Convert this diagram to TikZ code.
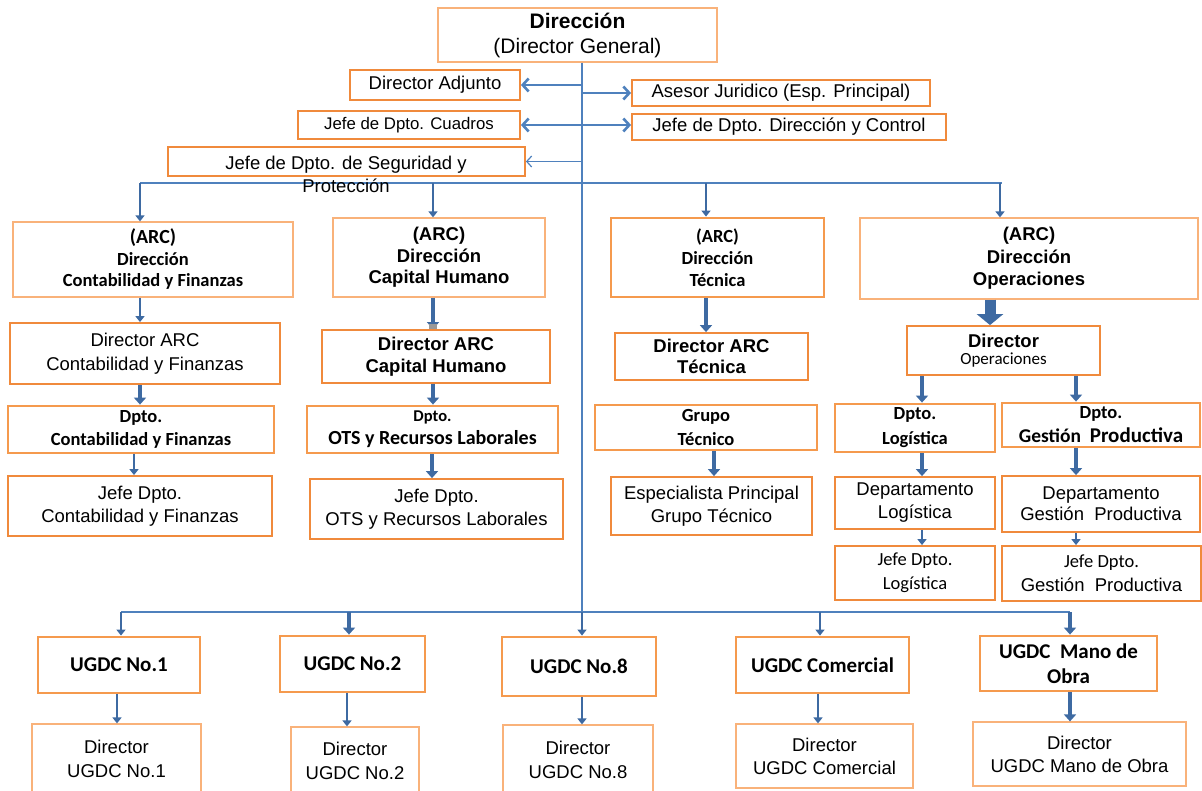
\documentclass[tikz,border=0pt]{standalone}
\usepackage{fontspec}
\setmainfont{Liberation Sans}
\newfontfamily\calib{Carlito}
\usetikzlibrary{arrows.meta,calc}
\definecolor{busb}{HTML}{4F81BD}
\definecolor{arrb}{HTML}{3E6AA2}
\definecolor{orL}{HTML}{F9B27A}
\definecolor{orM}{HTML}{F08A3C}
\definecolor{orT}{HTML}{F59A4E}
\newcommand\fA{\fontsize{18.5}{22}\selectfont\mdseries}
\newcommand\fAb{\fontsize{18.5}{22}\selectfont\bfseries}
\newcommand\fCb{\calib\fontsize{18.5}{22}\selectfont\bfseries}
\newcommand\fC{\calib\fontsize{18.5}{22}\selectfont\mdseries}
\newcommand\bx[7]{\node[#6, minimum width={(#4-#2)*1pt}, minimum height={(#5-#3)*1pt}] (#1) at ({(#2+#4)/2},{(#3+#5)/2}) {#7};}
\tikzset{
  bxbase/.style={rectangle, inner sep=0pt, align=center, fill=white, font=\fontsize{18.5}{23}\selectfont},
  bxthin/.style={bxbase, draw=orL, line width=1.2pt},
  bxmid/.style={bxbase, draw=orM, line width=1.8pt},
  bxthick/.style={bxbase, draw=orT, line width=2.8pt},
  bus/.style={draw=busb, line width=2.6pt},
  drop/.style={draw=arrb, line width=2.8pt, -{Triangle[length=6pt,width=9pt]}},
  dropT/.style={draw=arrb, line width=4.5pt, -{Triangle[length=7pt,width=12pt]}},
  block/.style={draw=arrb, line width=11pt, -{Triangle[length=11pt,width=26pt]}},
  side/.style={draw=busb, line width=2.6pt, -{Straight Barb[length=6pt,width=13pt]}},
  sidethin/.style={draw=busb, line width=1.2pt, -{Straight Barb[length=5pt,width=11pt]}},
}
\begin{document}
\begin{tikzpicture}[x=1pt,y=-1pt]
\useasboundingbox (0,0) rectangle (1202,791);
% top level
\bx{top}{438}{8}{717}{62}{bxthin, font=\fontsize{21}{25}\selectfont}{{\fontsize{21}{25}\selectfont\bfseries Dirección}\\{\fontsize{21}{25}\selectfont\mdseries(Director General)}}
\bx{adj}{350}{70}{520}{100}{bxmid}{\fA Director Adjunto}
\bx{ase}{632}{80}{930}{106}{bxmid}{\fA Asesor Juridico (Esp. Principal)}
\bx{cua}{298}{111}{520}{139}{bxmid}{\fontsize{16.8}{20}\selectfont Jefe de Dpto. Cuadros}
\bx{ctl}{632}{114}{946}{140}{bxmid}{\fA Jefe de Dpto. Dirección y Control}
\bx{seg}{168}{147}{525}{176}{bxmid}{}
% ARC level
\bx{A1}{13}{222}{293}{297}{bxthin, font=\fontsize{18.5}{21.5}\selectfont}{{\calib\bfseries\fontsize{20}{21}\selectfont (ARC)}\\{\fCb Dirección}\\{\fCb Contabilidad y Finanzas}}
\bx{A2}{333}{218}{545}{297}{bxthin, font=\fontsize{18.5}{21.5}\selectfont}{{\fAb (ARC)}\\{\fAb Dirección}\\{\fAb Capital Humano}}
\bx{A3}{611}{218}{824}{297}{bxthick, font=\fontsize{18.5}{22}\selectfont}{{\fCb (ARC)}\\{\fCb Dirección}\\{\fCb Técnica}}
\bx{A4}{860}{218}{1198}{299}{bxthin, font=\fontsize{18.5}{22.5}\selectfont}{{\fAb (ARC)}\\{\fAb Dirección}\\{\fAb Operaciones}}
% Director level
\bx{B1}{10}{323}{280}{384}{bxmid, font=\fontsize{18.5}{24}\selectfont}{{\fA Director ARC}\\{\fA Contabilidad y Finanzas}}
\bx{B2}{322}{330}{550}{383}{bxmid, font=\fontsize{18.5}{22}\selectfont}{{\fAb Director ARC}\\{\fAb Capital Humano}}
\bx{B3}{615}{333}{808}{380}{bxmid, font=\fontsize{18.5}{21}\selectfont}{{\fAb Director ARC}\\{\fAb Técnica}}
\bx{B4}{907}{326}{1100}{375}{bxmid, font=\fontsize{18.5}{17}\selectfont}{{\fAb Director}\\{\calib\fontsize{17}{19}\selectfont\mdseries Operaciones}}
% Dpto level
\bx{C1}{8}{406}{274}{453}{bxthick}{{\fCb Dpto.}\\{\fCb Contabilidad y Finanzas}}
\bx{C2}{307}{406}{558}{453}{bxthick}{{\calib\bfseries\fontsize{16.5}{20}\selectfont Dpto.}\\{\calib\bfseries\fontsize{20}{22}\selectfont OTS y Recursos Laborales}}
\bx{C3}{595}{405}{817}{450}{bxthick, font=\fontsize{18.5}{24}\selectfont}{{\fCb Grupo}\\{\fCb Técnico}}
\bx{C4}{835}{404}{995}{452}{bxthick, font=\fontsize{18.5}{25}\selectfont}{{\fCb Dpto.}\\{\fCb Logística}}
\bx{C5}{1002}{403}{1200}{447}{bxthick, font=\fontsize{18.5}{24}\selectfont}{{\fCb Dpto.}\\{\calib\bfseries\fontsize{19.5}{22}\selectfont Gestión\ \ }{\calib\bfseries\fontsize{21}{22}\selectfont Productiva}}
% Jefe level
\bx{D1}{8}{476}{272}{536}{bxmid}{{\fA Jefe Dpto.}\\{\fA Contabilidad y Finanzas}}
\bx{D2}{310}{479}{563}{539}{bxmid}{{\fA Jefe Dpto.}\\{\fA OTS y Recursos Laborales}}
\bx{D3}{611}{477}{812}{535}{bxmid}{{\fA Especialista Principal}\\{\fA Grupo Técnico}}
\bx{D4}{835}{477}{995}{529}{bxmid}{{\fA Departamento}\\{\fA Logística}}
\bx{D5}{1002}{476}{1200}{532}{bxmid, font=\fontsize{18.5}{21}\selectfont}{{\fA Departamento}\\{\fA Gestión\ \ Productiva}}
\bx{E4}{835}{546}{995}{600}{bxmid, font=\fontsize{18.5}{24}\selectfont}{{\fC Jefe Dpto.}\\{\fC Logística}}
\bx{E5}{1002}{546}{1201}{601}{bxmid, font=\fontsize{18.5}{24}\selectfont}{{\fC Jefe Dpto.}\\{\fA Gestión\ \ Productiva}}
% UGDC level
\bx{U1}{38}{637}{200}{693}{bxthick}{{\calib\bfseries\fontsize{21}{24}\selectfont UGDC No.1}}
\bx{U2}{280}{636}{425}{692}{bxthick}{{\calib\bfseries\fontsize{21}{24}\selectfont UGDC No.2}}
\bx{U8}{502}{637}{656}{696}{bxthick}{{\calib\bfseries\fontsize{21}{24}\selectfont UGDC No.8}}
\bx{UC}{736}{637}{909}{693}{bxthick}{{\calib\bfseries\fontsize{21}{24}\selectfont UGDC Comercial}}
\bx{UM}{980}{636}{1157}{691}{bxthick, font=\fontsize{21}{25}\selectfont}{{\calib\bfseries\fontsize{21}{25}\selectfont UGDC\ \ Mano de}\\{\calib\bfseries\fontsize{21}{25}\selectfont Obra}}
\bx{V1}{32}{724}{201}{794}{bxthin, font=\fontsize{18.5}{24}\selectfont}{{\fA Director}\\{\fA UGDC No.1}}
\bx{V2}{291}{727}{419}{794}{bxthin, font=\fontsize{18.5}{24}\selectfont}{{\fA Director}\\{\fA UGDC No.2}}
\bx{V8}{503}{725}{653}{794}{bxthin, font=\fontsize{18.5}{24}\selectfont}{{\fA Director}\\{\fA UGDC No.8}}
\bx{VC}{736}{724}{913}{788}{bxthin}{{\fA Director}\\{\fA UGDC Comercial}}
\bx{VM}{973}{722}{1186}{786}{bxthin}{{\fA Director}\\{\fA UGDC Mano de Obra}}
% coordinates
\coordinate (tx) at (582,0);
\coordinate (busT) at (0,183);
\coordinate (busB) at (0,612);
% trunk and buses
\draw[bus] (tx |- top.south) -- (tx |- busB);
\draw[bus] (140,0 |- busT) -- (1002,0 |- busT);
\draw[bus] (121,0 |- busB) -- (1070,0 |- busB);
% side arrows
\draw[side] (tx |- adj.east) -- (adj.east);
\draw[side] (tx |- ase.west) -- (ase.west);
\draw[side, {Straight Barb[length=6pt,width=13pt]}-{Straight Barb[length=6pt,width=13pt]}] (cua.east) -- (cua.east -| ctl.west);
\draw[sidethin] (tx |- seg.east) -- (seg.east);
% drops to ARC
\draw[drop] (140,0 |- busT) -- (140,0 |- A1.north);
\draw[drop] (433,0 |- busT) -- (433,0 |- A2.north);
\draw[drop] (706,0 |- busT) -- (706,0 |- A3.north);
\draw[drop] (1000,0 |- busT) -- (1000,0 |- A4.north);
% ARC to Director
\draw[drop] (140,0 |- A1.south) -- (140,0 |- B1.north);
\draw[dropT] (433,0 |- A2.south) -- (433,0 |- B2.north);
\fill[gray!80] (429,324) rectangle (437,329.5);
\draw[dropT] (706,0 |- A3.south) -- (706,0 |- B3.north);
\draw[block] (990,0 |- A4.south) -- (990,0 |- B4.north);
% Director to Dpto
\draw[dropT] (140,0 |- B1.south) -- (140,0 |- C1.north);
\draw[dropT] (433,0 |- B2.south) -- (433,0 |- C2.north);
\draw[dropT] (922,0 |- B4.south) -- (922,0 |- C4.north);
\draw[dropT] (1076,0 |- B4.south) -- (1076,0 |- C5.north);
% Dpto to Jefe
\draw[drop] (134,0 |- C1.south) -- (134,0 |- D1.north);
\draw[dropT] (432,0 |- C2.south) -- (432,0 |- D2.north);
\draw[dropT] (714,0 |- C3.south) -- (714,0 |- D3.north);
\draw[dropT] (922,0 |- C4.south) -- (922,0 |- D4.north);
\draw[dropT] (1076,0 |- C5.south) -- (1076,0 |- D5.north);
\draw[drop] (922,0 |- D4.south) -- (922,0 |- E4.north);
\draw[drop] (1076,0 |- D5.south) -- (1076,0 |- E5.north);
% bottom drops
\draw[drop] (121,0 |- busB) -- (121,0 |- U1.north);
\draw[dropT] (349,0 |- busB) -- (349,0 |- U2.north);
\draw[drop] (tx |- busB) -- (tx |- U8.north);
\draw[drop] (820,0 |- busB) -- (820,0 |- UC.north);
\draw[dropT] (1070,0 |- busB) -- (1070,0 |- UM.north);
\draw[drop] (117,0 |- U1.south) -- (117,0 |- V1.north);
\draw[drop] (347,0 |- U2.south) -- (347,0 |- V2.north);
\draw[drop] (582,0 |- U8.south) -- (582,0 |- V8.north);
\draw[drop] (818,0 |- UC.south) -- (818,0 |- VC.north);
\draw[dropT] (1070,0 |- UM.south) -- (1070,0 |- VM.north);
% Seguridad text (spills below its box)
\node[align=center, inner sep=0pt, font=\fontsize{18.5}{23}\selectfont] (segtxt) at (346,174.5) {Jefe de Dpto. de Seguridad y\\Protección};
\end{tikzpicture}
\end{document}
